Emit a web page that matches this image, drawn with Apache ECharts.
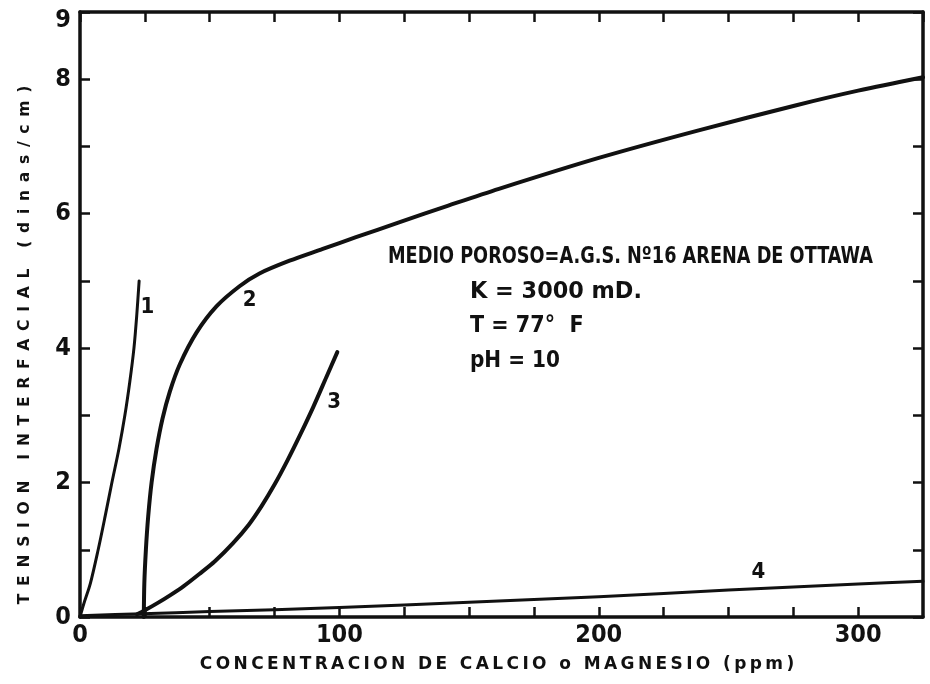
<!DOCTYPE html>
<html>
<head>
<meta charset="utf-8">
<script src="https://cdn.jsdelivr.net/npm/echarts@6/dist/echarts.min.js"></script>
<style>
html,body{margin:0;padding:0;background:#fff;}
#c{width:930px;height:684px;}
</style>
</head>
<body>
<div id="c"></div>
<script>
// ---- data ----
var curve1 = [[0,0],[1.5,0.2],[4,0.5],[7,1.0],[9.7,1.5],[12.3,2.0],[15,2.5],[17.3,3.0],[19.2,3.5],[20.8,4.0],[21.9,4.5],[22.8,5.0]];
var curve2 = [[24.6,0],[24.8,0.5],[25.4,1.0],[26.3,1.5],[27.6,2.0],[29.5,2.5],[31.8,2.95],[34.6,3.35],[38.5,3.76],[44.9,4.23],[52.6,4.62],[61.5,4.92],[69.2,5.11],[80.8,5.30],[93.6,5.475],[106.4,5.65],[123,5.87],[142,6.12],[161.5,6.37],[200,6.83],[238.5,7.24],[275.8,7.61],[300,7.83],[325,8.03]];
var curve3 = [[22,0.04],[25,0.1],[30,0.21],[35,0.33],[40,0.46],[46,0.64],[52,0.83],[59,1.1],[65,1.37],[70,1.65],[75,1.97],[80,2.33],[85,2.72],[90,3.13],[95,3.57],[99.2,3.94]];
var curve4 = [[0,0.02],[24,0.05],[50,0.08],[100,0.14],[150,0.22],[200,0.3],[250,0.4],[300,0.49],[325,0.53]];
var curveLabels = [[26,4.6,'1'],[65.4,4.71,'2'],[98,3.19,'3'],[261.5,0.67,'4']];
var xLabelValues = [0,100,200,300];
var yLabelValues = [0,2,4,6,8,9];
var xTitle = 'CONCENTRACION DE CALCIO o MAGNESIO (ppm)';
var yTitle = 'TENSION INTERFACIAL (dinas/cm)';
var noteLines = ['MEDIO POROSO=A.G.S. Nº16 ARENA DE OTTAWA','K = 3000 mD.','T = 77°  F','pH = 10'];

var NARROW = "'Liberation Sans Narrow','DejaVu Sans Condensed','Arial Narrow',sans-serif";
function spaced(s, sep){ return s.split('').join(sep); }

var chart = echarts.init(document.getElementById('c'));
var axisLine = {show:true, onZero:false, lineStyle:{color:'#111', width:3.5}};
var tick = {show:true, inside:true, length:10, lineStyle:{color:'#111', width:2.5}};
function lineSeries(d, w){
  return {type:'line', data:d, smooth:0.3, symbol:'none', xAxisIndex:0, yAxisIndex:0,
    lineStyle:{color:'#111', width:w, cap:'round', join:'round'}, z:3};
}
chart.setOption({
  animation:false,
  backgroundColor:'#fff',
  grid:{left:80, right:7, top:12, bottom:67, containLabel:false},
  xAxis:[
    {type:'value', min:0, max:325, interval:25, position:'bottom',
      axisLine:axisLine, axisTick:tick, splitLine:{show:false},
      axisLabel:{color:'#111', fontFamily:NARROW, fontWeight:'bold', fontSize:25, margin:6,
        showMaxLabel:false,
        formatter:function(v){ return xLabelValues.indexOf(v)>=0 ? String(v) : ''; }}},
    {type:'value', min:0, max:325, interval:25, position:'top',
      axisLine:axisLine, axisTick:tick, splitLine:{show:false}, axisLabel:{show:false}}
  ],
  yAxis:[
    {type:'value', min:0, max:9, interval:1, position:'left',
      axisLine:axisLine, axisTick:tick, splitLine:{show:false},
      axisLabel:{color:'#111', fontFamily:NARROW, fontWeight:'bold', fontSize:25, margin:9,
        rich:{top:{padding:[16,0,0,0], fontFamily:NARROW, fontWeight:'bold', fontSize:25, color:'#111'}},
        formatter:function(v){
          if (yLabelValues.indexOf(v) < 0) return '';
          return v === 9 ? '{top|' + v + '}' : String(v);
        }}},
    {type:'value', min:0, max:9, interval:1, position:'right',
      axisLine:axisLine, axisTick:tick, splitLine:{show:false}, axisLabel:{show:false}}
  ],
  series:[
    lineSeries(curve1, 3),
    lineSeries(curve2, 4),
    lineSeries(curve3, 4),
    lineSeries(curve4, 3),
    {type:'line', data:[], xAxisIndex:1, yAxisIndex:1, symbol:'none'},
    {type:'scatter', data:curveLabels, symbolSize:0, xAxisIndex:0, yAxisIndex:0, z:4,
      itemStyle:{opacity:1},
      label:{show:true, position:'inside', color:'#111', opacity:1, fontFamily:NARROW, fontWeight:'bold', fontSize:22,
        formatter:function(p){ return p.value[2]; }}}
  ],
  graphic:[
    {type:'text', left:388, top:246, scaleX:0.855, style:{text:noteLines[0], fill:'#111', font:"bold 23px "+NARROW}},
    {type:'text', left:470, top:281, scaleX:1.08, style:{text:noteLines[1], fill:'#111', font:"bold 23px "+NARROW}},
    {type:'text', left:470, top:315, scaleX:1.0, style:{text:noteLines[2], fill:'#111', font:"bold 23px "+NARROW}},
    {type:'text', left:470, top:350, scaleX:0.97, style:{text:noteLines[3], fill:'#111', font:"bold 23px "+NARROW}},
    {type:'text', x:497, y:665, style:{text:spaced(xTitle,'\u2009'), fill:'#111', font:"bold 17px 'DejaVu Sans'", align:'center', verticalAlign:'middle'}},
    {type:'text', x:25, y:345, rotation:Math.PI/2, style:{text:spaced(yTitle,'\u2002'), fill:'#111', font:"bold 15.5px 'DejaVu Sans'", align:'center', verticalAlign:'middle'}}
  ]
});
</script>
</body>
</html>
